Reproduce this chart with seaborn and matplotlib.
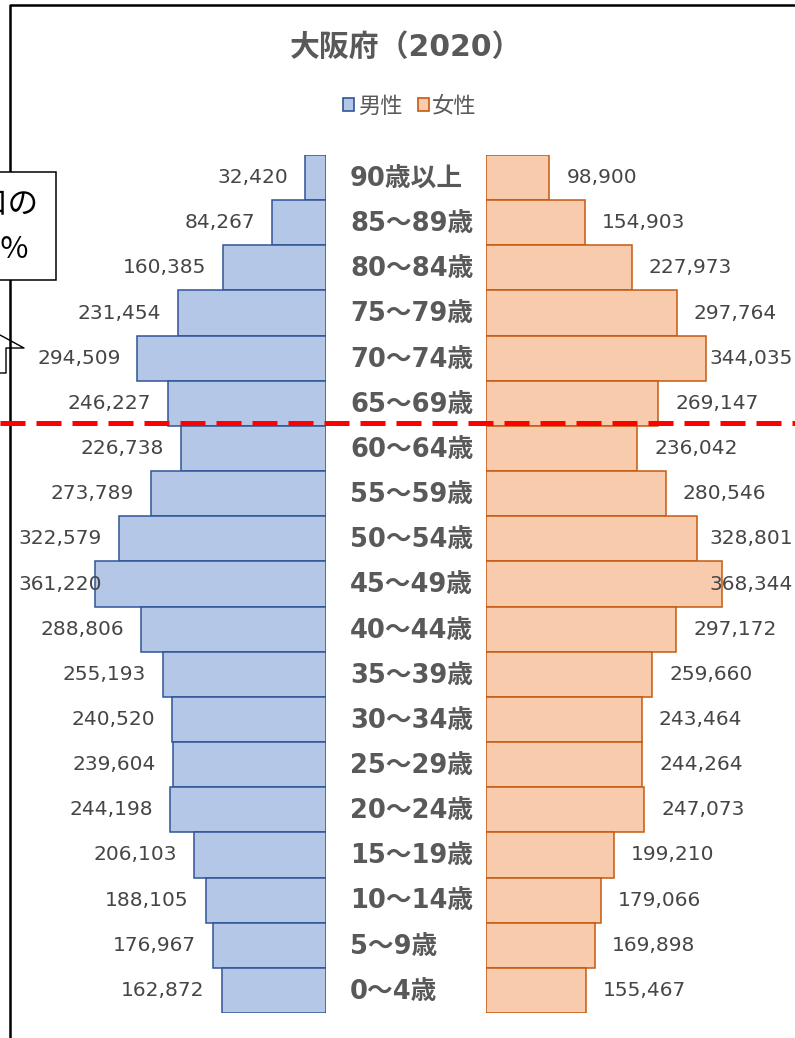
import matplotlib
matplotlib.use("Agg")
import matplotlib.pyplot as plt
import matplotlib.transforms as mtransforms
from matplotlib.lines import Line2D
from matplotlib.patches import Patch, Rectangle
import seaborn as sns

# データ（大阪府 2020 年 人口ピラミッド）
ages = ["90歳以上", "85～89歳", "80～84歳", "75～79歳", "70～74歳", "65～69歳",
        "60～64歳", "55～59歳", "50～54歳", "45～49歳", "40～44歳", "35～39歳",
        "30～34歳", "25～29歳", "20～24歳", "15～19歳", "10～14歳", "5～9歳", "0～4歳"]
male = [32420, 84267, 160385, 231454, 294509, 246227, 226738, 273789, 322579,
        361220, 288806, 255193, 240520, 239604, 244198, 206103, 188105, 176967, 162872]
female = [98900, 154903, 227973, 297764, 344035, 269147, 236042, 280546, 328801,
          368344, 297172, 259660, 243464, 244264, 247073, 199210, 179066, 169898, 155467]
title = "大阪府（2020）"
legend_labels = ["男性", "女性"]

sns.set_style("white")
# 数字は幅の広い DejaVu、漢字は Noto CJK に回す
plt.rcParams["font.family"] = ["DejaVu Sans", "Noto Sans CJK JP"]

W, H = 795, 1038
GRAY = "#595959"
M_FACE, M_EDGE = "#B4C7E7", "#2F5597"
F_FACE, F_EDGE = "#F8CBAD", "#C55A11"
PX = 1562  # 1ピクセルあたりの人数


def fx(px):
    return px / W


def fy(py):
    return 1 - py / H


fig = plt.figure(figsize=(W / 100, H / 100), dpi=100)

axL = fig.add_axes([fx(18), fy(1013), fx(326 - 18), (1013 - 155) / H])
axR = fig.add_axes([fx(486), fy(1013), fx(793 - 486), (1013 - 155) / H])

sns.barplot(x=male, y=ages, orient="h", ax=axL, color=M_FACE, edgecolor=M_EDGE,
            linewidth=1.1, width=1.0, saturation=1)
sns.barplot(x=female, y=ages, orient="h", ax=axR, color=F_FACE, edgecolor=F_EDGE,
            linewidth=1.1, width=1.0, saturation=1)

wL = 326 - 18
wR = 793 - 486
axL.set_xlim(wL * PX, 0)
axR.set_xlim(0, wR * PX)
for ax in (axL, axR):
    ax.set_ylim(len(ages) - 0.5, -0.5)
    ax.axis("off")

lab_kw = dict(va="center", fontsize=14.5, color="#454545")
off = 17 * 72 / 100
for i, v in enumerate(male):
    s = f"{v:,}"
    if v / PX + 17 + 88 > wL:
        tr = mtransforms.blended_transform_factory(axL.transAxes, axL.transData)
        axL.text(0, i, s, transform=tr, ha="left", **lab_kw)
    else:
        axL.annotate(s, (v, i), xytext=(-off, 0), textcoords="offset points",
                     ha="right", **lab_kw)
for i, v in enumerate(female):
    s = f"{v:,}"
    if v / PX + 17 + 88 > wR:
        tr = mtransforms.blended_transform_factory(axR.transAxes, axR.transData)
        axR.text(1, i, s, transform=tr, ha="right", **lab_kw)
    else:
        axR.annotate(s, (v, i), xytext=(off, 0), textcoords="offset points",
                     ha="left", **lab_kw)

# 年齢ラベル（中央）
trc = mtransforms.blended_transform_factory(fig.transFigure, axL.transData)
for i, a in enumerate(ages):
    fig.text(fx(350), i + 0.03, a, transform=trc, ha="left", va="center",
             fontsize=18.5, fontweight="bold", color=GRAY)

fig.text(fx(406), fy(47), title, ha="center", va="center", fontsize=21.5,
         fontweight="bold", color=GRAY)

handles = [Patch(facecolor=M_FACE, edgecolor=M_EDGE, linewidth=1.2),
           Patch(facecolor=F_FACE, edgecolor=F_EDGE, linewidth=1.2)]
fig.legend(handles, legend_labels, loc="center", bbox_to_anchor=(fx(410), fy(106)),
           ncol=2, frameon=False, fontsize=16, handlelength=0.5, handleheight=0.5,
           handletextpad=0.15, columnspacing=0.7, labelcolor=GRAY)

# 65歳の境界線
fig.add_artist(Line2D([0, 1], [fy(423), fy(423)], color="red", lw=3.6,
                      dashes=(5, 2.2), zorder=5))

# 枠線
fig.add_artist(Line2D([fx(9.5), fx(9.5), 1], [0, fy(4.5), fy(4.5)],
                      color="black", lw=1.8, zorder=1))

# 吹き出し（一部のみ見える）
fig.add_artist(Rectangle((fx(-80), fy(280)), fx(136), 108 / H,
                         transform=fig.transFigure, facecolor="white",
                         edgecolor="black", lw=1.1, zorder=3))
fig.text(fx(38), fy(204), "総人口の", ha="right", va="center", fontsize=22,
         color="black", zorder=4, family=["Noto Sans CJK JP"])
fig.text(fx(29), fy(250), "27.7%", ha="right", va="center", fontsize=22,
         color="black", zorder=4, family=["Noto Sans CJK JP"])
fig.add_artist(Line2D([0, fx(24), fx(6), fx(6), 0],
                      [fy(335), fy(348), fy(348), fy(373), fy(373)],
                      color="black", lw=1.0, zorder=3))

fig.savefig("out.png", dpi=100)
